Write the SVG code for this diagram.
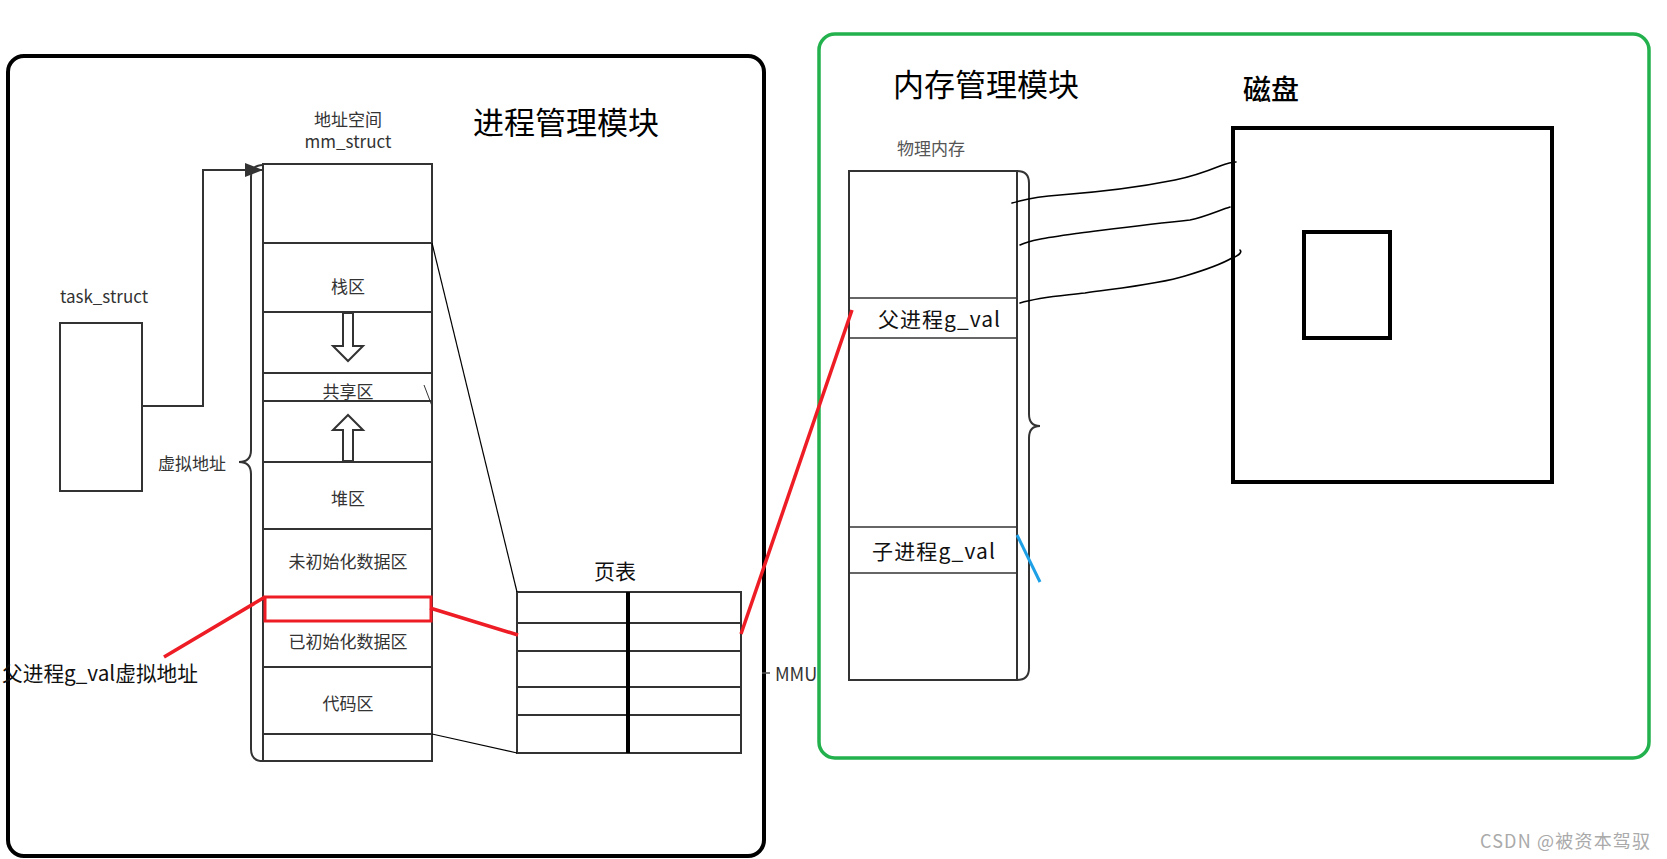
<svg xmlns="http://www.w3.org/2000/svg" width="1667" height="859" viewBox="0 0 1667 859">
<style>
.lbl{font-family:"Noto Sans CJK SC","Noto Sans",sans-serif;fill:#333;font-size:17px;text-anchor:middle;dominant-baseline:central}
.cell{fill:none;stroke:#333;stroke-width:2}
.big{font-family:"Noto Sans CJK SC","Noto Sans",sans-serif;fill:#000;font-size:31px;dominant-baseline:central}
.ser{font-family:"Noto Sans CJK SC","Liberation Mono",monospace;fill:#111;font-size:21px;dominant-baseline:central}
.red{stroke:#ee1c24;stroke-width:3.5;fill:none}
.hand{fill:none;stroke:#000;stroke-width:1.6;stroke-linecap:round}
</style>
<defs>
<marker id="ah" markerWidth="18" markerHeight="14" refX="17" refY="7" orient="auto" markerUnits="userSpaceOnUse" viewBox="0 0 18 14">
<path d="M0,0 L18,7 L0,14 z" fill="#333"/>
</marker>
</defs>
<rect width="1667" height="859" fill="#fff"/>

<g id="process-module">
<rect x="8" y="56" width="756" height="800" rx="16" fill="none" stroke="#000" stroke-width="4"/>
<text class="big" x="473" y="120">进程管理模块</text>
</g>

<g id="memory-module">
<rect x="819" y="34" width="830" height="724" rx="16" fill="none" stroke="#22b14c" stroke-width="3.5"/>
<text class="big" x="893" y="82">内存管理模块</text>
</g>

<g id="task-struct">
<text class="lbl" x="104" y="295">task_struct</text>
<rect class="cell" x="60" y="323" width="82" height="168"/>
</g>

<g id="mm-struct">
<text class="lbl" x="348" y="118">地址空间</text>
<text class="lbl" x="348" y="140">mm_struct</text>
<rect class="cell" x="263" y="164" width="169" height="597"/>
<line class="cell" x1="263" y1="243" x2="432" y2="243"/>
<line class="cell" x1="263" y1="312" x2="432" y2="312"/>
<line class="cell" x1="263" y1="373" x2="432" y2="373"/>
<line class="cell" x1="263" y1="401" x2="432" y2="401"/>
<line class="cell" x1="263" y1="462" x2="432" y2="462"/>
<line class="cell" x1="263" y1="529" x2="432" y2="529"/>
<line class="cell" x1="263" y1="667" x2="432" y2="667"/>
<line class="cell" x1="263" y1="734" x2="432" y2="734"/>
<text class="lbl" x="348" y="285">栈区</text>
<text class="lbl" x="348" y="390">共享区</text>
<text class="lbl" x="348" y="497">堆区</text>
<text class="lbl" x="348" y="560">未初始化数据区</text>
<text class="lbl" x="348" y="640">已初始化数据区</text>
<text class="lbl" x="348" y="702">代码区</text>
<polygon points="343,313 343,346 333,346 348,361 363,346 353,346 353,313" fill="#fff" stroke="#333" stroke-width="2"/>
<polygon points="343,461 343,430 333,430 348,415 363,430 353,430 353,461" fill="#fff" stroke="#333" stroke-width="2"/>
<path d="M263,165 Q251,165 251,177 L251,450 Q251,462 239,462 Q251,462 251,474 L251,749 Q251,761 263,761" fill="none" stroke="#333" stroke-width="2"/>
<text class="lbl" x="192" y="462">虚拟地址</text>
<line x1="424" y1="385" x2="432" y2="406" stroke="#333" stroke-width="1"/>
<rect x="265" y="597" width="166" height="24" fill="none" stroke="#ee1c24" stroke-width="3"/>
</g>

<g id="page-table">
<text class="lbl" x="615" y="570" style="font-size:21px;fill:#111">页表</text>
<rect class="cell" x="517" y="592" width="224" height="161"/>
<line class="cell" x1="517" y1="623" x2="741" y2="623"/>
<line class="cell" x1="517" y1="651" x2="741" y2="651"/>
<line class="cell" x1="517" y1="687" x2="741" y2="687"/>
<line class="cell" x1="517" y1="715" x2="741" y2="715"/>
<line x1="628" y1="592" x2="628" y2="753" stroke="#000" stroke-width="4"/>
</g>

<g id="mmu">
<line x1="762" y1="673" x2="770" y2="673" stroke="#555" stroke-width="1.5"/>
<text class="lbl" x="775" y="673" style="text-anchor:start;font-size:18px">MMU</text>
</g>

<g id="physical-memory">
<text class="lbl" x="931" y="147" style="fill:#555">物理内存</text>
<rect class="cell" x="849" y="171" width="168" height="509"/>
<line class="cell" x1="849" y1="298" x2="1017" y2="298" style="stroke-width:1.5"/>
<line class="cell" x1="849" y1="338" x2="1017" y2="338" style="stroke-width:1.5"/>
<line class="cell" x1="849" y1="527" x2="1017" y2="527" style="stroke-width:1.5"/>
<line class="cell" x1="849" y1="573" x2="1017" y2="573" style="stroke-width:1.5"/>
<text class="ser" x="878" y="318" textLength="122" lengthAdjust="spacing">父进程g_val</text>
<text class="ser" x="872" y="550" textLength="123" lengthAdjust="spacing">子进程g_val</text>
<path d="M1017,171 Q1029,171 1029,183 L1029,414 Q1029,426 1040,426 Q1029,426 1029,438 L1029,668 Q1029,680 1017,680" fill="none" stroke="#333" stroke-width="2"/>
</g>

<g id="disk">
<text class="ser" x="1243" y="88" style="font-size:28px;font-weight:500;fill:#000">磁盘</text>
<rect x="1233" y="128" width="319" height="354" fill="none" stroke="#000" stroke-width="4"/>
<rect x="1304" y="232" width="86" height="106" fill="none" stroke="#000" stroke-width="4"/>
</g>

<g id="left-label">
<text class="ser" x="2" y="672" textLength="196" lengthAdjust="spacingAndGlyphs">父进程g_val虚拟地址</text>
</g>

<g id="watermark">
<text x="1480" y="840" textLength="170" style="font-family:'Noto Sans CJK SC','Liberation Sans',sans-serif;font-size:18px;fill:#aaa;dominant-baseline:central">CSDN @被资本驾驭</text>
</g>

<g id="connectors">
<polyline points="142,406 203,406 203,170 262,170" fill="none" stroke="#333" stroke-width="2" marker-end="url(#ah)"/>
<line x1="432" y1="243" x2="517" y2="592" stroke="#000" stroke-width="1.2"/>
<line x1="432" y1="734" x2="517" y2="753" stroke="#000" stroke-width="1.2"/>
<line class="red" x1="265" y1="597" x2="164" y2="657"/>
<line class="red" x1="430" y1="608" x2="518" y2="635"/>
<line class="red" x1="741" y1="634" x2="852" y2="310"/>
<line x1="1017" y1="535" x2="1040" y2="582" stroke="#1ea0e6" stroke-width="3"/>
<path class="hand" d="M1012,203 C1025,200 1030,197 1060,195 C1100,192 1140,187 1175,180 C1195,176 1210,170 1220,166 C1228,163 1232,162 1236,162"/>
<path class="hand" d="M1020,245 C1030,240 1045,238 1080,233 C1120,228 1150,224 1190,220 C1205,217 1220,210 1230,207"/>
<path class="hand" d="M1020,303 C1040,297 1060,296 1085,293 C1120,288 1160,284 1185,276 C1205,270 1220,265 1232,258 C1240,255 1242,252 1240,250"/>
</g>
</svg>
